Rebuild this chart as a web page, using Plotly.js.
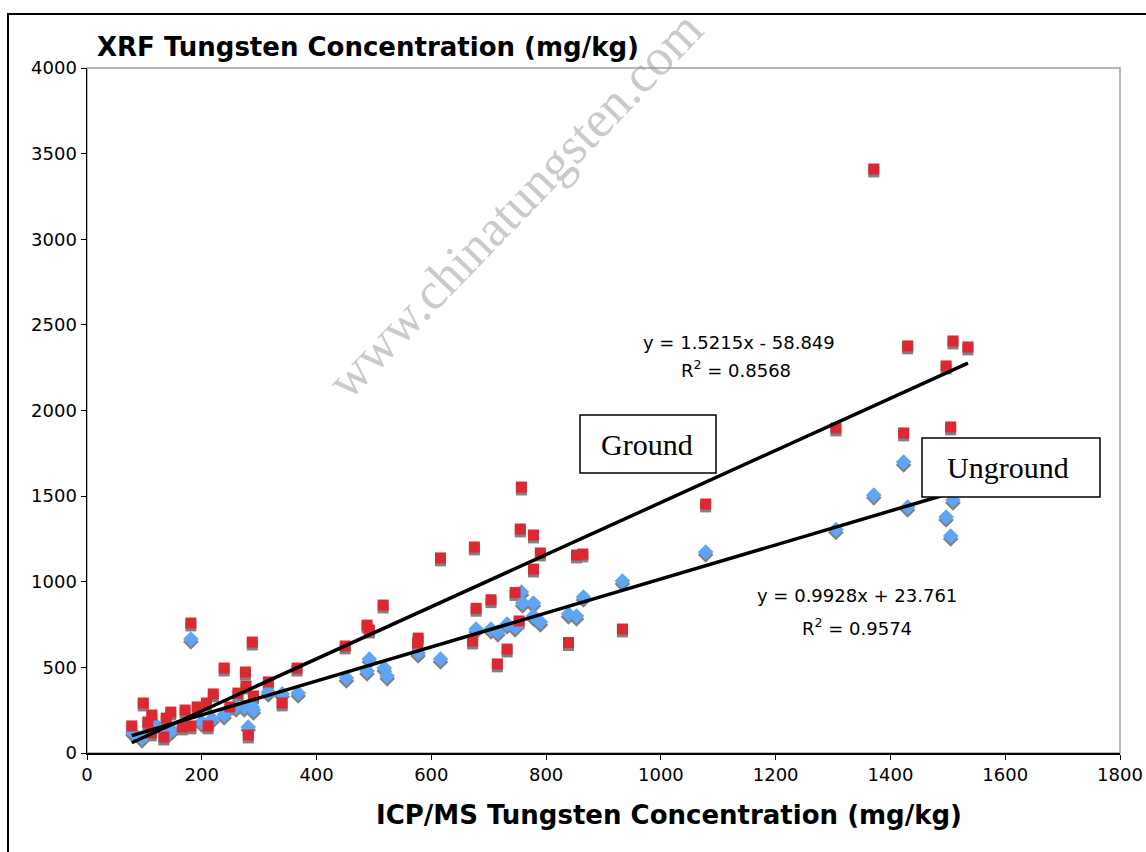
<!DOCTYPE html>
<html>
<head>
<meta charset="utf-8">
<script src="https://cdn.plot.ly/plotly-3.0.1.min.js"></script>
<style>html,body{margin:0;padding:0;background:#fff;}#chart{width:1146px;height:852px;}</style>
</head>
<body>
<div id="chart"></div>
<script>
// Ground samples (red squares): ICP/MS x, XRF y
const groundX = [78, 98, 106, 112, 113, 134, 138, 146, 166, 171, 181, 181, 192, 208, 211, 220, 239, 249, 263, 276, 277, 281, 288, 290, 316, 340, 366, 450, 488, 492, 516, 576, 577, 616, 672, 675, 678, 704, 715, 732, 746, 753, 755, 757, 778, 778, 790, 839, 853, 864, 933, 1078, 1305, 1371, 1423, 1430, 1497, 1505, 1509, 1535];
const groundY = [158, 292, 181, 117, 222, 93, 204, 239, 152, 251, 158, 759, 269, 292, 158, 345, 496, 269, 350, 473, 391, 105, 648, 333, 415, 292, 496, 625, 747, 718, 864, 642, 671, 1139, 654, 1203, 845, 895, 520, 607, 937, 771, 1308, 1553, 1273, 1074, 1168, 645, 1156, 1162, 724, 1454, 1898, 3410, 1869, 2377, 2260, 1904, 2406, 2371];
// Unground samples (blue diamonds)
const ungroundX = [80, 96, 120, 140, 148, 181, 200, 218, 239, 260, 274, 281, 288, 290, 316, 340, 368, 452, 488, 492, 518, 523, 577, 616, 678, 704, 716, 732, 746, 757, 759, 778, 778, 790, 839, 853, 865, 933, 1078, 1305, 1371, 1423, 1430, 1497, 1505, 1509];
const ungroundY = [120, 88, 163, 110, 134, 666, 180, 198, 222, 269, 269, 152, 269, 251, 356, 345, 350, 438, 479, 549, 496, 450, 584, 549, 724, 724, 707, 753, 736, 940, 876, 876, 800, 765, 812, 800, 911, 1004, 1174, 1305, 1507, 1699, 1436, 1378, 1267, 1477];
// Trendlines as printed on the chart
const groundFit = {slope: 1.5215, intercept: -58.849, xRange: [78, 1535]};
const ungroundFit = {slope: 0.9928, intercept: 23.761, xRange: [78, 1510]};
const xTicks = [0, 200, 400, 600, 800, 1000, 1200, 1400, 1600, 1800];
const yTicks = [0, 500, 1000, 1500, 2000, 2500, 3000, 3500, 4000];

const fitLine = f => ({x: f.xRange, y: f.xRange.map(v => f.slope * v + f.intercept)});
const gl = fitLine(groundFit), ul = fitLine(ungroundFit);

const RED = '#DC2830', BLUE = '#5EA6F5', SH = '#808080';
const traces = [
  {x: ungroundX, y: ungroundY, yaxis: 'y', type: 'scatter', mode: 'markers', hoverinfo: 'skip',
   marker: {symbol: 'diamond', size: 12, color: SH}},
  {x: groundX, y: groundY, yaxis: 'y', type: 'scatter', mode: 'markers', hoverinfo: 'skip',
   marker: {symbol: 'square', size: 11, color: SH}},
  {x: ungroundX, y: ungroundY, yaxis: 'y2', type: 'scatter', mode: 'markers', name: 'Unground',
   marker: {symbol: 'diamond', size: 12, color: BLUE}},
  {x: groundX, y: groundY, yaxis: 'y2', type: 'scatter', mode: 'markers', name: 'Ground',
   marker: {symbol: 'square', size: 11, color: RED}},
  {x: gl.x, y: gl.y, yaxis: 'y2', type: 'scatter', mode: 'lines', line: {color: '#000', width: 3.5}},
  {x: ul.x, y: ul.y, yaxis: 'y2', type: 'scatter', mode: 'lines', line: {color: '#000', width: 3.5}}
];

const px = p => (p - 87) / 1033, py = p => (753 - p) / 685;
const eqFont = {family: 'DejaVu Sans', size: 18, color: '#000'};
const tickFont = {family: 'DejaVu Sans', size: 18, color: '#000'};
const ann = (x, y, text, font, extra) => Object.assign({xref: 'paper', yref: 'paper', x: px(x), y: py(y),
  xanchor: 'center', yanchor: 'middle', showarrow: false, text: text, font: font}, extra || {});
const layout = {
  width: 1146, height: 852, showlegend: false,
  font: {family: 'DejaVu Sans', size: 18, color: '#000'},
  paper_bgcolor: '#fff', plot_bgcolor: '#fff',
  margin: {l: 87, r: 26, t: 68, b: 99},
  xaxis: {range: [0, 1800], tickmode: 'array', tickvals: xTicks, ticktext: xTicks.map(String), showgrid: false, zeroline: false,
          showline: true, linecolor: '#000', linewidth: 1.5, ticks: 'outside', ticklen: 5, tickcolor: '#000',
          tickfont: tickFont},
  yaxis: {range: [17, 4017], visible: false, showgrid: false, zeroline: false},
  yaxis2: {overlaying: 'y', side: 'left', range: [0, 4000], tickmode: 'array', tickvals: yTicks, ticktext: yTicks.map(String),
           showgrid: false, zeroline: false, showline: true, linecolor: '#000', linewidth: 1.5,
           ticks: 'outside', ticklen: 5, tickcolor: '#000', tickfont: tickFont},
  shapes: [
    {type: 'rect', xref: 'paper', yref: 'paper', x0: 0, x1: 1, y0: 0, y1: 1, line: {color: '#a0a0a0', width: 1.5}, layer: 'below'},
    {type: 'rect', xref: 'paper', yref: 'paper', x0: px(8), x1: 1.2, y0: -0.4, y1: py(14), line: {color: '#000', width: 2}},
    {type: 'rect', xref: 'paper', yref: 'paper', x0: px(580), x1: px(716), y0: py(473), y1: py(415),
     line: {color: '#000', width: 1.5}, fillcolor: '#fff', layer: 'above'},
    {type: 'rect', xref: 'paper', yref: 'paper', x0: px(922), x1: px(1100), y0: py(497), y1: py(438),
     line: {color: '#000', width: 1.5}, fillcolor: '#fff', layer: 'above'}
  ],
  annotations: [
    ann(95, 47, '<b>XRF Tungsten Concentration (mg/kg)</b>', {family: 'DejaVu Sans', size: 26, color: '#000'}, {xanchor: 'left'}),
    ann(669, 815, '<b>ICP/MS Tungsten Concentration (mg/kg)</b>', {family: 'DejaVu Sans', size: 26, color: '#000'}),
    ann(739, 343, 'y = 1.5215x - 58.849', eqFont),
    ann(736, 369, 'R<sup>2</sup> = 0.8568', eqFont),
    ann(857, 595, 'y = 0.9928x + 23.761', eqFont),
    ann(857, 627, 'R<sup>2</sup> = 0.9574', eqFont),
    ann(647, 444, 'Ground', {family: 'Liberation Serif', size: 30, color: '#000'}),
    ann(1008, 468, 'Unground', {family: 'Liberation Serif', size: 30, color: '#000'}),
    ann(515, 205, 'www.chinatungsten.com', {family: 'Liberation Serif', size: 52, color: 'rgba(150,150,150,0.5)'}, {textangle: -46})
  ]
};
Plotly.newPlot('chart', traces, layout, {displayModeBar: false, staticPlot: true});
</script>
</body>
</html>
